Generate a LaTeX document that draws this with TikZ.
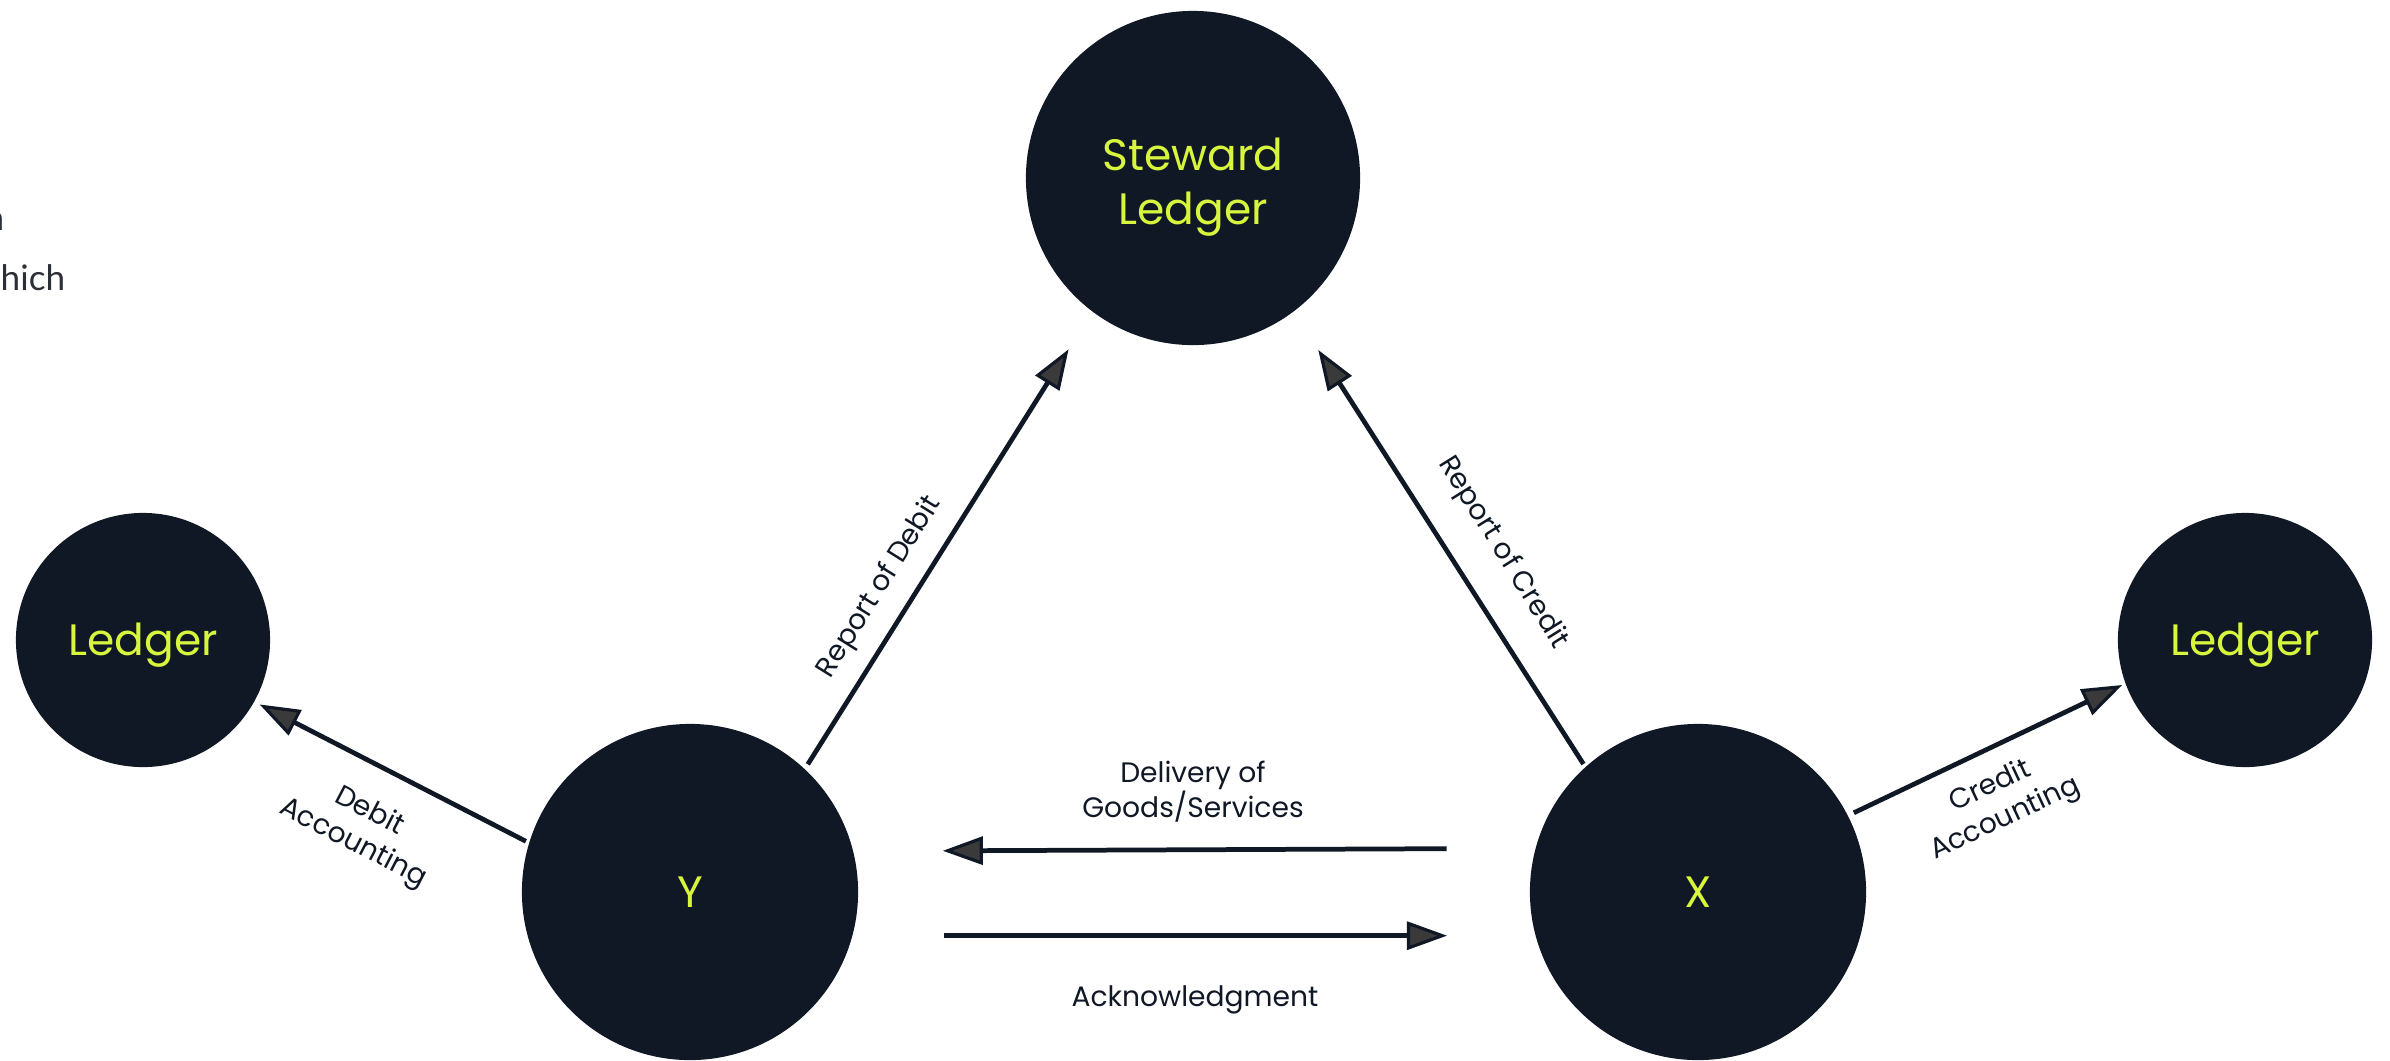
\documentclass[tikz,border=0pt]{standalone}
\usepackage{fontspec}
\setmainfont{Poppins}
\newfontfamily\latofont{Lato}
\usetikzlibrary{arrows.meta}
\definecolor{navy}{HTML}{101826}
\definecolor{lime}{HTML}{D6F53C}
\definecolor{tipfill}{HTML}{3A3A3A}
\definecolor{fragtext}{HTML}{2B2F36}
\begin{document}
\begin{tikzpicture}[x=0.01cm,y=-0.01cm,
  bubble/.style={circle, fill=navy, text=lime, inner sep=0pt, align=center,
    font=\fontsize{12.5pt}{15.5pt}\selectfont},
  conn/.style={draw=navy, line width=1.35pt,
    -{Triangle[length=0.40cm,width=0.28cm,fill=tipfill,line width=0.9pt]}},
  lbl/.style={text=navy, align=center, inner sep=0pt,
    font=\fontsize{8pt}{10pt}\selectfont},
  frag/.style={text=fragtext, inner sep=0pt,
    font=\latofont\fontsize{10pt}{12pt}\selectfont},
]
\useasboundingbox (0,0) rectangle (2390,1060);
\clip (0,0) rectangle (2390,1060);

% clipped text fragment at the left edge
\node[frag, anchor=base east] (frag1) at (5,230) {n};
\node[frag, anchor=base west] (frag2) at (0,290) {hich};

% circles
\node[bubble, minimum size=3.34cm] (stew) at (1193,178)
  {\raisebox{-0.195cm}[0pt][0pt]{Steward}\\\raisebox{-0.195cm}[0pt][0pt]{Ledger}};
\node[bubble, minimum size=3.36cm] (y) at (690,892) {Y};
\node[bubble, minimum size=3.36cm] (x) at (1698,892) {X};
\node[bubble, minimum size=2.54cm] (ll) at (143,640) {\raisebox{-0.15cm}[0pt][0pt]{Ledger}};
\node[bubble, minimum size=2.54cm] (rl) at (2245,640) {\raisebox{-0.15cm}[0pt][0pt]{Ledger}};

% connectors
\draw[conn, shorten <=0.05cm, shorten >=0.44cm] (y.47.3) -- (stew.233.7);
\draw[conn, shorten <=0.03cm, shorten >=0.45cm] (x.132.9) -- (stew.307.1);
\draw[conn, shorten <=0.883cm, shorten >=0.89cm] (x.165.52) -- (y.14.48);
\draw[conn, shorten <=0.906cm, shorten >=0.879cm] (y.-15.18) -- (x.195.18);
\draw[conn, shorten <=0.03cm, shorten >=0.055cm] (y.163.4) -- (ll.331.1);
\draw[conn, shorten <=0.06cm, shorten >=0.03cm] (x.27.7) -- (rl.200.2);

% labels
\node[lbl, rotate=58] (lrd) at (880,587) {Report of Debit};
\node[lbl, rotate=-58] (lrc) at (1503,553) {Report of Credit};
\node[lbl] (ldel) at (1193,792) {Delivery of\\Goods/Services};
\node[lbl] (lack) at (1195,1000) {Acknowledgment};
\node[lbl, rotate=-27.5] (lda) at (361,828) {Debit\\Accounting};
\node[lbl, rotate=25] (lca) at (1998,803) {Credit\\Accounting};
\end{tikzpicture}
\end{document}
